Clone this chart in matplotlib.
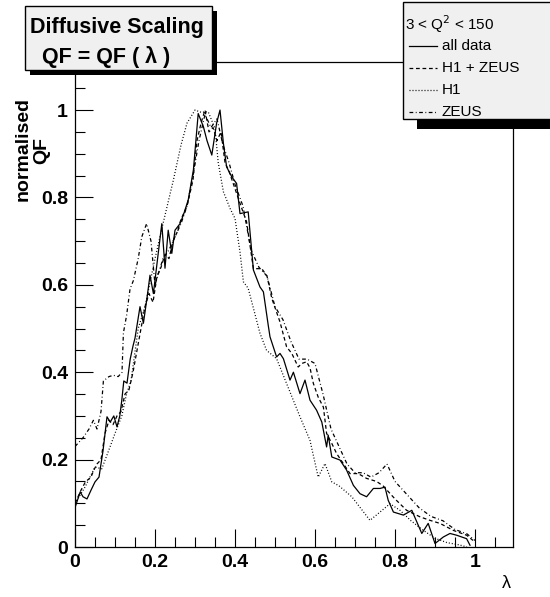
import matplotlib
matplotlib.use('Agg')
import matplotlib.pyplot as plt
from matplotlib.patches import Rectangle
from matplotlib.lines import Line2D
from matplotlib.ticker import MultipleLocator, FuncFormatter

plt.rcParams['font.family'] = ['Liberation Sans', 'DejaVu Sans']

# all data (solid)
lam_all = [0.0, 0.013, 0.02, 0.03, 0.04, 0.05, 0.06, 0.07, 0.08, 0.088, 0.097, 0.105, 0.112, 0.117,
           0.122, 0.13, 0.138, 0.145, 0.15, 0.1625, 0.171, 0.18, 0.1875, 0.196, 0.204, 0.217, 0.225,
           0.233, 0.242, 0.25, 0.2625, 0.271, 0.283, 0.296, 0.308, 0.321, 0.33, 0.342, 0.354, 0.3625,
           0.371, 0.379, 0.392, 0.404, 0.4125, 0.433, 0.446, 0.4625, 0.471, 0.483, 0.4875, 0.504,
           0.5125, 0.521, 0.5375, 0.546, 0.5625, 0.575, 0.5875, 0.604, 0.617, 0.629, 0.633, 0.642,
           0.6625, 0.679, 0.696, 0.7125, 0.729, 0.746, 0.7625, 0.775, 0.783, 0.796, 0.821, 0.842,
           0.867, 0.883, 0.9, 0.921, 0.9375, 0.954, 0.979, 0.9875]
qf_all = [0.09, 0.126, 0.115, 0.11, 0.13, 0.149, 0.16, 0.22, 0.298, 0.286, 0.30, 0.275, 0.30, 0.336,
          0.38, 0.375, 0.43, 0.46, 0.478, 0.55, 0.512, 0.57, 0.622, 0.58, 0.641, 0.74, 0.638,
          0.725, 0.672, 0.725, 0.74, 0.76, 0.794, 0.863, 0.992, 0.962, 0.93, 0.897, 0.97, 1.0,
          0.924, 0.87, 0.847, 0.832, 0.763, 0.767, 0.634, 0.595, 0.584, 0.508, 0.481, 0.435,
          0.443, 0.431, 0.382, 0.40, 0.351, 0.382, 0.336, 0.313, 0.286, 0.229, 0.256, 0.206,
          0.199, 0.176, 0.141, 0.122, 0.115, 0.134, 0.134, 0.137, 0.107, 0.080, 0.073, 0.084,
          0.031, 0.054, 0.008, 0.023, 0.031, 0.027, 0.019, 0.004]

# H1 + ZEUS (dashed)
lam_comb = [0.0, 0.015, 0.026, 0.04, 0.047, 0.055, 0.065, 0.075, 0.085, 0.095, 0.105, 0.115, 0.125,
            0.135, 0.145, 0.155, 0.165, 0.175, 0.185, 0.195, 0.205, 0.215, 0.225, 0.235, 0.245,
            0.255, 0.265, 0.28, 0.295, 0.305, 0.315, 0.325, 0.335, 0.345, 0.355, 0.365, 0.375,
            0.385, 0.4, 0.415, 0.429, 0.446, 0.467, 0.48, 0.492, 0.5125, 0.529, 0.542, 0.558,
            0.567, 0.579, 0.5875, 0.596, 0.608, 0.621, 0.629, 0.642, 0.654, 0.6875, 0.708, 0.729,
            0.754, 0.77, 0.8, 0.829, 0.8625, 0.8875, 0.9125, 0.946, 0.979, 0.995]
qf_comb = [0.10, 0.13, 0.149, 0.16, 0.176, 0.19, 0.20, 0.26, 0.29, 0.28, 0.30, 0.31, 0.35, 0.36,
           0.40, 0.45, 0.50, 0.55, 0.58, 0.56, 0.62, 0.64, 0.67, 0.66, 0.70, 0.72, 0.75, 0.78,
           0.84, 0.93, 0.97, 1.0, 0.95, 0.96, 0.93, 0.95, 0.88, 0.86, 0.82, 0.78, 0.744, 0.637,
           0.637, 0.62, 0.569, 0.515, 0.458, 0.443, 0.412, 0.42, 0.424, 0.41, 0.374, 0.343, 0.32,
           0.26, 0.237, 0.214, 0.168, 0.168, 0.157, 0.15, 0.14, 0.11, 0.084, 0.069, 0.061, 0.054,
           0.038, 0.027, 0.015]

# H1 (dotted)
lam_h1 = [0.0, 0.025, 0.05, 0.067, 0.0875, 0.1, 0.117, 0.129, 0.14, 0.158, 0.175, 0.2, 0.22, 0.246,
          0.265, 0.28, 0.3, 0.315, 0.333, 0.35, 0.358, 0.371, 0.3875, 0.4, 0.4125, 0.421, 0.433,
          0.4625, 0.479, 0.504, 0.529, 0.5625, 0.5875, 0.608, 0.625, 0.642, 0.66, 0.692, 0.7375,
          0.7875, 0.8125, 0.84, 0.871, 0.9, 0.93, 0.96, 0.98]
qf_h1 = [0.10, 0.137, 0.183, 0.179, 0.229, 0.26, 0.30, 0.351, 0.38, 0.50, 0.55, 0.66, 0.74, 0.84,
         0.92, 0.97, 1.0, 0.995, 0.996, 0.958, 0.88, 0.813, 0.775, 0.752, 0.675, 0.607, 0.592,
         0.489, 0.45, 0.431, 0.374, 0.298, 0.244, 0.16, 0.191, 0.149, 0.14, 0.115, 0.061, 0.099,
         0.084, 0.06, 0.038, 0.02, 0.01, 0.005, 0.0]

# ZEUS (dash-dot)
lam_zeus = [0.0, 0.02, 0.035, 0.046, 0.055, 0.065, 0.071, 0.085, 0.096, 0.108, 0.1175, 0.121, 0.129,
            0.1375, 0.146, 0.158, 0.167, 0.179, 0.19, 0.2, 0.21, 0.22, 0.235, 0.25, 0.265, 0.28,
            0.295, 0.31, 0.325, 0.34, 0.355, 0.37, 0.385, 0.4, 0.42, 0.44, 0.46, 0.48, 0.5, 0.52,
            0.54, 0.56, 0.58, 0.6, 0.62, 0.64, 0.66, 0.68, 0.7, 0.72, 0.74, 0.76, 0.78, 0.8, 0.83,
            0.86, 0.89, 0.92, 0.95, 0.98, 1.0]
qf_zeus = [0.23, 0.25, 0.27, 0.29, 0.27, 0.31, 0.38, 0.39, 0.393, 0.39, 0.40, 0.49, 0.53, 0.59,
           0.61, 0.66, 0.71, 0.74, 0.70, 0.60, 0.63, 0.66, 0.68, 0.71, 0.74, 0.78, 0.85, 0.93,
           0.99, 0.96, 0.98, 0.92, 0.88, 0.83, 0.78, 0.68, 0.64, 0.62, 0.55, 0.52, 0.47, 0.43,
           0.43, 0.42, 0.35, 0.27, 0.23, 0.19, 0.17, 0.17, 0.16, 0.17, 0.19, 0.15, 0.12, 0.09,
           0.07, 0.06, 0.04, 0.03, 0.015]

legend_title = '3 < Q$^{2}$ < 150'
legend_labels = ['all data', 'H1 + ZEUS', 'H1', 'ZEUS']

W, H = 550, 597
fig = plt.figure(figsize=(W / 100, H / 100), dpi=100)
ax = fig.add_axes([75 / W, 1 - 547 / H, 438 / W, 485 / H])

styles = ['-', (0, (3, 2.2)), (0, (0.8, 1.6)), (0, (3, 2, 0.7, 2))]
series = [(lam_all, qf_all), (lam_comb, qf_comb), (lam_h1, qf_h1), (lam_zeus, qf_zeus)]
for (xs, ys), ls in zip(series, styles):
    ax.plot(xs, ys, color='black', lw=0.9, linestyle=ls)

ax.set_xlim(0, 1.095)
ax.set_ylim(0, 1.11)
ax.xaxis.set_major_locator(MultipleLocator(0.2))
ax.xaxis.set_minor_locator(MultipleLocator(0.05))
ax.yaxis.set_major_locator(MultipleLocator(0.2))
ax.yaxis.set_minor_locator(MultipleLocator(0.05))
fmt = FuncFormatter(lambda v, p: '%g' % round(v, 3))
ax.xaxis.set_major_formatter(fmt)
ax.yaxis.set_major_formatter(fmt)
ax.tick_params(which='both', direction='in', top=False, right=False, width=0.8)
ax.tick_params(which='major', length=13, labelsize=14)
ax.tick_params(which='minor', length=7)
ax.tick_params(axis='x', pad=5)
ax.tick_params(axis='y', pad=5)
plt.setp(ax.get_xticklabels() + ax.get_yticklabels(), fontweight='bold')
for s in ax.spines.values():
    s.set_linewidth(0.9)


def fx(px):
    return px / W


def fy(py):
    return 1 - py / H


# axis titles (two rotated lines)
fig.text(fx(23), fy(149), 'normalised', rotation=90, ha='center', va='center',
         fontsize=14, fontweight='bold')
fig.text(fx(42), fy(150), 'QF', rotation=90, ha='center', va='center',
         fontsize=14, fontweight='bold')
fig.text(fx(506), fy(584), 'λ', ha='center', va='center', fontsize=13)

# title box with shadow
fig.add_artist(Rectangle((fx(30), fy(75)), (217 - 30) / W, (75 - 11) / H,
                         transform=fig.transFigure, facecolor='black', edgecolor='none'))
fig.add_artist(Rectangle((fx(25), fy(70)), (212 - 25) / W, (70 - 6) / H,
                         transform=fig.transFigure, facecolor='#f0f0f0', edgecolor='black', lw=1))
fig.text(fx(30), fy(27), 'Diffusive Scaling', ha='left', va='center', fontsize=15.5,
         fontweight='bold')
fig.text(fx(42), fy(57), 'QF = QF ( λ )', ha='left', va='center', fontsize=15.5,
         fontweight='bold')

# legend box with shadow
fig.add_artist(Rectangle((fx(417), fy(129)), (550 - 417) / W, (129 - 110) / H,
                         transform=fig.transFigure, facecolor='black', edgecolor='none'))
fig.add_artist(Rectangle((fx(403), fy(119)), (552 - 403) / W, (119 - 2) / H,
                         transform=fig.transFigure, facecolor='#f0f0f0', edgecolor='black', lw=1))
fig.text(fx(405), fy(24), legend_title, ha='left', va='center', fontsize=11)
for i, (lab, ls) in enumerate(zip(legend_labels, styles)):
    yy = fy(46 + 22 * i)
    fig.add_artist(Line2D([fx(409), fx(437)], [yy, yy], transform=fig.transFigure,
                          color='black', lw=0.9, linestyle=ls))
    fig.text(fx(442), yy, lab, ha='left', va='center', fontsize=11)

fig.savefig('out.png', dpi=100)
